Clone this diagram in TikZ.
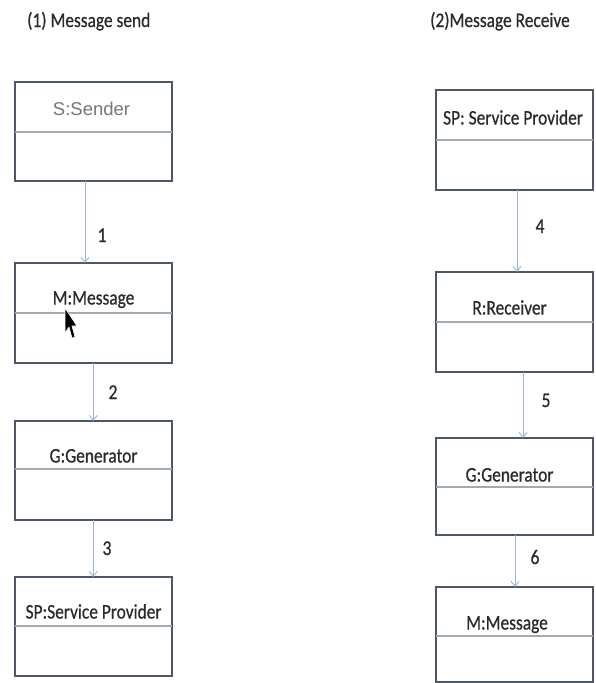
\documentclass[tikz,border=0pt]{standalone}
\usepackage{fontspec}
\setmainfont{Carlito}[FakeStretch=0.84, FakeBold=0.6]
\newfontfamily\senderfont{Liberation Sans}
\usetikzlibrary{arrows.meta,calc}

\definecolor{boxline}{HTML}{4C5868}
\definecolor{divline}{HTML}{A6AAAF}
\definecolor{flowline}{HTML}{9DB3D2}
\definecolor{textdark}{HTML}{2A2A2A}
\definecolor{textgray}{HTML}{767676}

\begin{document}
\begin{tikzpicture}[x=1pt,y=-1pt,
  objbox/.style={draw=boxline, line width=2pt, anchor=north west,
    inner sep=0pt, outer sep=0pt, minimum width=#1},
  objbox/.default=157.5pt,
  divider/.style={draw=divline, line width=1.2pt},
  lbl/.style={anchor=base, inner sep=0pt, text=textdark, font=\fontsize{20.7}{24}\selectfont},
  num/.style={anchor=base, inner sep=0pt, text=textdark, font=\fontsize{21}{24}\selectfont},
  title/.style={anchor=base west, inner sep=0pt, text=textdark, font=\fontsize{20.7}{24}\selectfont},
  flow/.style={draw=flowline, line width=0.9pt, -{Straight Barb[length=5pt,width=8pt]}}]

\useasboundingbox (0,0) rectangle (595,683);

% section titles
\node[title] (t1) at (27,27) {(1) Message send};
\node[title] (t2) at (430,27) {(2)Message Receive};

% ---- (1) message send: object boxes ----
\node[objbox, minimum height=99pt]  (s)  at (14.5,82)  {};
\node[objbox, minimum height=100pt] (m)  at (14.5,263) {};
\node[objbox, minimum height=99pt]  (g)  at (14.5,421) {};
\node[objbox, minimum height=99pt]  (sp) at (14.5,577) {};

\draw[divider] ($(s.north west)+(0,50)$)  -- ($(s.north east)+(0,50)$);
\draw[divider] ($(m.north west)+(0,50)$)  -- ($(m.north east)+(0,50)$);
\draw[divider] ($(g.north west)+(0,48)$)  -- ($(g.north east)+(0,48)$);
\draw[divider] ($(sp.north west)+(0,49)$) -- ($(sp.north east)+(0,49)$);

\node[anchor=base, inner sep=0pt, text=textgray, font=\senderfont\fontsize{18.5}{21}\selectfont] (ls) at (91.5,115) {S:Sender};
\node[lbl] (lm)  at (93.5,304.5) {M:Message};
\node[lbl] (lg)  at (93.5,462.5) {G:Generator};
\node[lbl] (lsp) at (93.5,618.5) {SP:Service Provider};

% ---- (2) message receive: object boxes ----
\node[objbox=157pt, minimum height=100pt] (rsp) at (436,90)  {};
\node[objbox=157pt, minimum height=100pt] (rr)  at (436,272) {};
\node[objbox=157pt, minimum height=97pt]  (rg)  at (436,438) {};
\node[objbox=157pt, minimum height=95pt]  (rm)  at (436,587) {};

\draw[divider] ($(rsp.north west)+(0,50)$) -- ($(rsp.north east)+(0,50)$);
\draw[divider] ($(rr.north west)+(0,50)$)  -- ($(rr.north east)+(0,50)$);
\draw[divider] ($(rg.north west)+(0,49)$)  -- ($(rg.north east)+(0,49)$);
\draw[divider] ($(rm.north west)+(0,49)$)  -- ($(rm.north east)+(0,49)$);

\node[lbl] (lrsp) at (513,124.5) {SP: Service Provider};
\node[lbl] (lrr)  at (509.5,314.5) {R:Receiver};
\node[lbl] (lrg)  at (509.5,481.5) {G:Generator};
\node[lbl] (lrm)  at (507,629.5) {M:Message};

% ---- messages ----
\draw[flow] ([xshift=-8.25pt]s.south)  -- ([xshift=-8.25pt]m.north);
\draw[flow] (m.south)  -- (g.north);
\draw[flow] (g.south)  -- (sp.north);
\draw[flow] ([xshift=2.5pt]rsp.south) -- ([xshift=2.5pt]rr.north);
\draw[flow] ([xshift=8.5pt]rr.south)  -- ([xshift=8.5pt]rg.north);
\draw[flow] ([xshift=0.5pt]rg.south)  -- ([xshift=0.5pt]rm.north);

\node[num] (n1) at (102,242) {1};
\node[num] (n2) at (113,399) {2};
\node[num] (n3) at (107,555) {3};
\node[num] (n4) at (540,233) {4};
\node[num] (n5) at (546,407) {5};
\node[num] (n6) at (535,564) {6};

% mouse pointer
\filldraw[fill=black, draw=white, line width=0.6pt, line join=round]
  (65,308) -- (65,333) -- (69,327) -- (72,338) -- (75,337) -- (72,326) -- (77,326) -- cycle;

\end{tikzpicture}
\end{document}
